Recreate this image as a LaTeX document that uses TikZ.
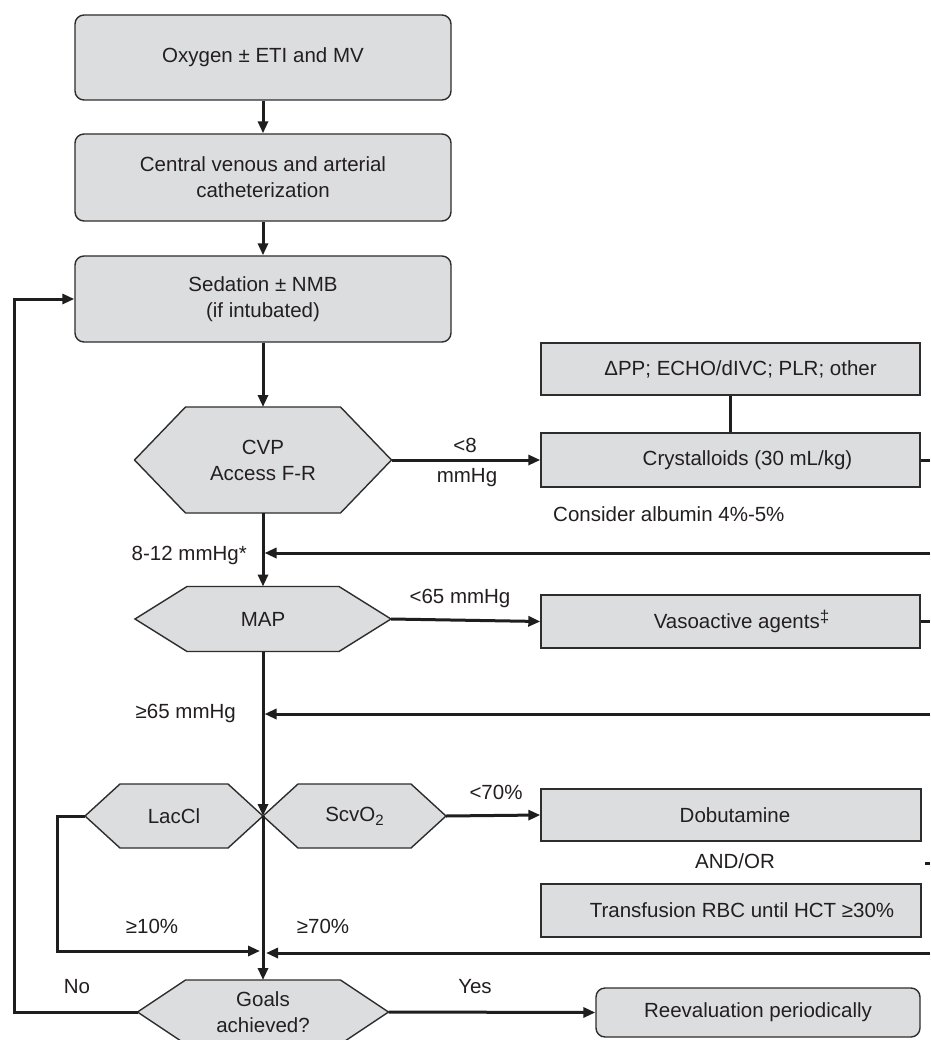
\documentclass[tikz,border=0pt]{standalone}
\usepackage{fontspec}
\setmainfont{Liberation Sans}
\usetikzlibrary{arrows.meta}
\definecolor{boxfill}{RGB}{220,221,223}
\definecolor{edgec}{RGB}{45,45,45}
\definecolor{linec}{RGB}{30,30,30}
\definecolor{txtc}{RGB}{35,31,32}
\newcommand\figfont{\fontsize{20.5}{26}\selectfont}
\newcommand\hexa[7]{%
  \path[hexfill] ({#2-#4},#3) -- ({#2-#4+#6},{#3-#5}) -- ({#2+#4-#6},{#3-#5}) -- ({#2+#4},#3)
     -- ({#2+#4-#6},{#3+#5}) -- ({#2-#4+#6},{#3+#5}) -- cycle;
  \node[hextext] (#1) at (#2,#3) {#7};
  \coordinate (#1-l) at ({#2-#4},#3);
  \coordinate (#1-r) at ({#2+#4},#3);
  \coordinate (#1-t) at (#2,{#3-#5});
  \coordinate (#1-b) at (#2,{#3+#5});
}
\tikzset{
  base/.style={font=\figfont, text=txtc},
  rbox/.style={draw=edgec, fill=boxfill, line width=1.4pt, rounded corners=9pt, minimum width=376pt, align=center, base, inner sep=0pt},
  sbox/.style={draw=edgec, fill=boxfill, line width=1.4pt, minimum width=379pt, align=center, base, inner sep=0pt},
  hexfill/.style={draw=edgec, fill=boxfill, line width=1.4pt, line join=miter},
  hextext/.style={base, align=center, inner sep=0pt},
  conn/.style={draw=linec, line width=3pt},
  arr/.style={conn, -{Triangle[length=12pt,width=10pt]}},
  lbl/.style={base, inner sep=0pt},
}
\begin{document}
\begin{tikzpicture}[x=1pt,y=-1pt]
\useasboundingbox (0,0) rectangle (930,1040);
\fill[white] (0,0) rectangle (930,1040);

% left column boxes
\node[rbox, minimum height=85pt] (oxy) at (263,57.5) {Oxygen ± ETI and MV};
\node[rbox, minimum height=87pt] (cath) at (263,177.5) {Central venous and arterial\\catheterization};
\node[rbox, minimum height=86pt] (sed) at (263,299) {Sedation ± NMB\\(if intubated)};
\draw[arr] (oxy.south) -- (cath.north);
\draw[arr] (cath.south) -- (sed.north);

% CVP
\hexa{cvp}{263}{460}{128.5}{53}{51}{CVP\\Access F-R}
\draw[arr] (sed.south) -- (cvp-t);
\node[sbox, minimum height=52pt] (dpp) at (730.5,369) {\hspace*{20pt}ΔPP; ECHO/dIVC; PLR; other};
\node[sbox, minimum height=54pt] (cry) at (730.5,460) {\hspace*{34pt}Crystalloids (30 mL/kg)};
\draw[conn] (dpp.south) -- (cry.north);
\draw[arr] (cvp-r) -- (cry.west);
\coordinate (cryE) at (930,460);
\draw[conn] (cry.east) -- (cryE);
\node[lbl] (l8) at (465,445) {<8};
\node[lbl] (l8b) at (467,478) {mmHg};
\node[lbl, anchor=west] (alb) at (553,514) {Consider albumin 4\%-5\%};

% return 1
\coordinate (r1) at (930,553);
\coordinate (j1) at (264.5,553);
\draw[arr] (r1) -- (j1);
\node[lbl, anchor=east] (l812) at (247,555) {8-12 mmHg*};

% MAP
\hexa{map}{263}{619}{128}{32.5}{52}{MAP}
\draw[arr] (cvp-b) -- (map-t);
\node[sbox, minimum height=53pt] (vaso) at (730.5,621.5) {\hspace*{22pt}Vasoactive agents\raisebox{6pt}{\fontsize{17}{17}\selectfont ‡}};
\draw[arr] (map-r) -- (vaso.west);
\coordinate (vasoE) at (930,621.5);
\draw[conn] (vaso.east) -- (vasoE);
\node[lbl] (l65) at (460,598) {<65 mmHg};

% return 2
\coordinate (r2) at (930,714);
\coordinate (j2) at (264.5,714);
\draw[arr] (r2) -- (j2);
\node[lbl, anchor=east] (g65) at (236,713) {≥65 mmHg};

% LacCl / ScvO2
\hexa{lac}{174}{816}{89}{32}{35}{LacCl}
\hexa{scv}{354.5}{816}{91.5}{32}{35}{ScvO\raisebox{-4pt}{\fontsize{15}{15}\selectfont 2}}
\draw[arr] (map-b) -- (lac-r);
\node[sbox, minimum width=380pt, minimum height=52pt] (dob) at (731,815) {\hspace*{8pt}Dobutamine};
\draw[arr] (scv-r) -- (dob.west);
\node[lbl] (l70) at (496,792) {<70\%};
\node[lbl] (andor) at (735,861) {AND/OR};
\coordinate (s1) at (925,863);
\coordinate (s2) at (930,863);
\draw[conn] (s1) -- (s2);
\node[sbox, minimum width=380pt, minimum height=53pt] (trans) at (731,910.5) {\hspace*{22pt}Transfusion RBC until HCT ≥30\%};

% Goals
\hexa{goals}{263}{1012}{125.5}{32}{48}{Goals\\achieved?}
\draw[arr] (lac-r) -- (goals-t);
\coordinate (lk1) at (57,816);
\coordinate (lk2) at (57,951);
\coordinate (j3) at (260,951);
\draw[arr] (lac-l) -- (lk1) -- (lk2) -- (j3);
\coordinate (r3) at (930,953);
\coordinate (j4) at (266,953);
\draw[arr] (r3) -- (j4);
\node[lbl] (g10) at (152,926) {≥10\%};
\node[lbl] (g70) at (323,926) {≥70\%};

% No loop
\coordinate (nl1) at (14,1012);
\coordinate (nl2) at (14,299);
\draw[arr] (goals-l) -- (nl1) -- (nl2) -- (sed.west);
\node[lbl] (no) at (77,987) {No};

% Yes
\node[rbox, minimum width=324pt, minimum height=49pt] (reev) at (758,1012.5) {Reevaluation periodically};
\draw[arr] (goals-r) -- (reev.west);
\node[lbl] (yes) at (475,987) {Yes};
\end{tikzpicture}
\end{document}
